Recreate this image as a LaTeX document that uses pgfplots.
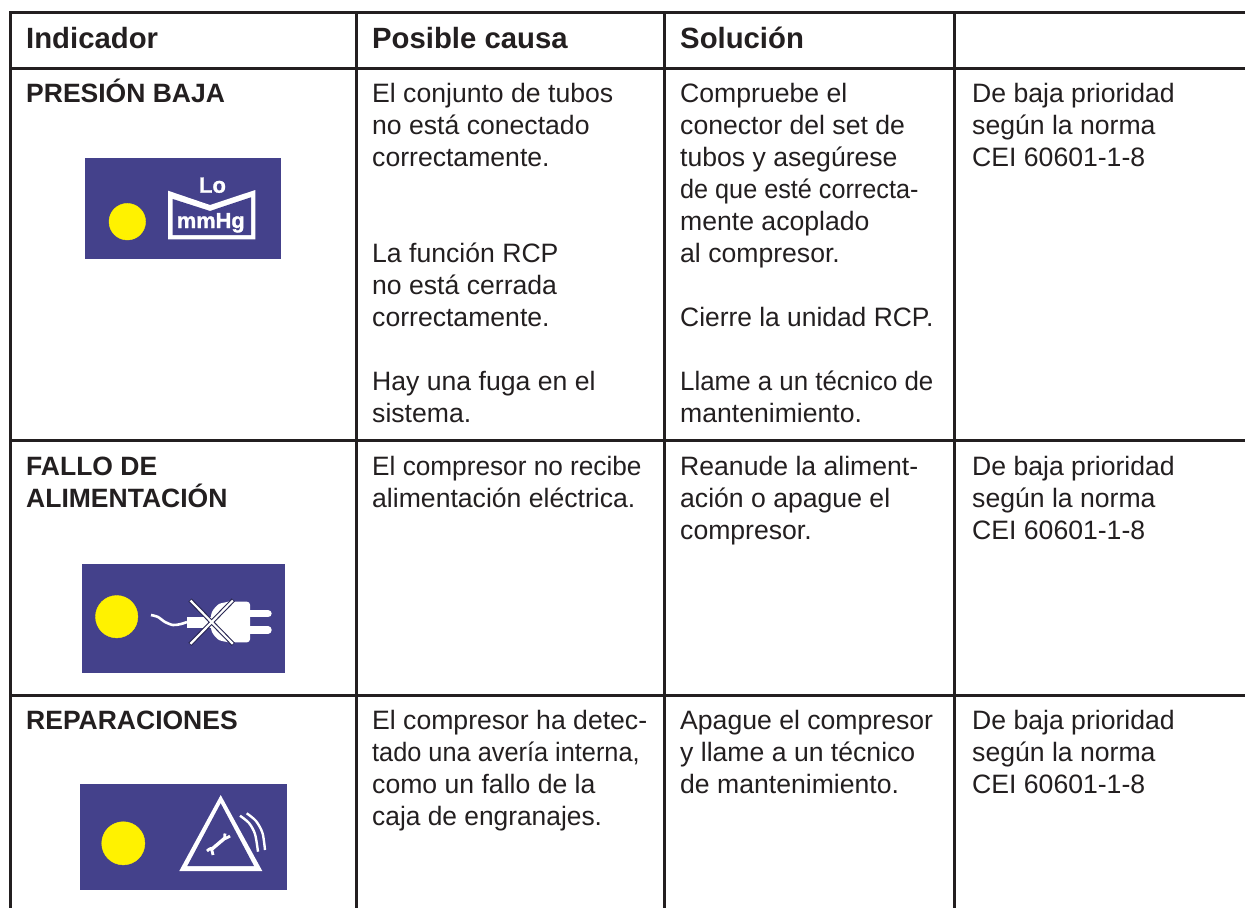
\documentclass[border=0pt]{standalone}
\usepackage{fontspec}
\setmainfont{Liberation Sans}
\newfontfamily\heavy[FakeBold=1.2]{Liberation Sans Bold}
\usepackage{pgfplots}
\pgfplotsset{compat=1.18}
\definecolor{ink}{HTML}{231F20}
\definecolor{navy}{HTML}{44418B}
\definecolor{sun}{HTML}{FFF200}
\newcommand{\T}[3]{\node[anchor=base west,inner sep=0pt,text=ink,font=\fontsize{26.6}{32}\selectfont] at (axis cs:#1,#2) {#3};}
\newcommand{\C}[4]{\node[anchor=base west,inner sep=0pt,xscale=#3,text=ink,font=\fontsize{26.6}{32}\selectfont] at (axis cs:#1,#2) {#4};}
\newcommand{\B}[3]{\node[anchor=base west,inner sep=0pt,text=ink,font=\fontsize{26.5}{32}\selectfont\bfseries] at (axis cs:#1,#2) {#3};}
\newcommand{\HH}[3]{\node[anchor=base west,inner sep=0pt,text=ink,font=\fontsize{29.3}{32}\selectfont\bfseries] at (axis cs:#1,#2) {#3};}
\begin{document}
\begin{tikzpicture}
\begin{axis}[hide axis,scale only axis,width=1245pt,height=908pt,
  xmin=0,xmax=1245,ymin=0,ymax=908,y dir=reverse,clip=true]
% white ground
\addplot[draw=none,fill=white] coordinates {(0,0)(1245,0)(1245,908)(0,908)} --cycle;
% rules
\addplot[ink,line width=3pt] coordinates {(9.3,12.8)(1245,12.8)};
\addplot[ink,line width=3pt] coordinates {(10.8,68.2)(1245,68.2)};
\addplot[ink,line width=3pt] coordinates {(10.8,440)(1245,440)};
\addplot[ink,line width=3pt] coordinates {(10.8,695)(1245,695)};
\addplot[ink,line width=3pt] coordinates {(10.8,12.8)(10.8,908)};
\addplot[ink,line width=3pt] coordinates {(356.8,12.8)(356.8,908)};
\addplot[ink,line width=3pt] coordinates {(664.8,12.8)(664.8,908)};
\addplot[ink,line width=3pt] coordinates {(954.8,12.8)(954.8,908)};
% header
\HH{26}{48.5}{Indicador}
\HH{372}{48.5}{Posible causa}
\HH{680}{48.5}{Solución}
% row 1
\B{26}{102}{PRESIÓN BAJA}
\T{372}{102}{El conjunto de tubos}
\T{372}{134}{no está conectado}
\T{372}{166}{correctamente.}
\T{372}{262}{La función RCP}
\T{372}{294}{no está cerrada}
\T{372}{326}{correctamente.}
\T{372}{390}{Hay una fuga en el}
\T{372}{422}{sistema.}
\T{680}{102}{Compruebe el}
\T{680}{134}{conector del set de}
\T{680}{166}{tubos y asegúrese}
\C{680}{198}{0.948}{de que esté correcta-}
\T{680}{230}{mente acoplado}
\T{680}{262}{al compresor.}
\C{680}{326}{0.992}{Cierre la unidad RCP.}
\C{680}{390}{0.973}{Llame a un técnico de}
\T{680}{422}{mantenimiento.}
\T{972}{102}{De baja prioridad}
\T{972}{134}{según la norma}
\T{972}{166}{CEI 60601-1-8}
% row 2
\B{26}{475}{FALLO DE}
\B{26}{507}{ALIMENTACIÓN}
\C{372}{475}{0.985}{El compresor no recibe}
\T{372}{507}{alimentación eléctrica.}
\T{680}{475}{Reanude la aliment-}
\T{680}{507}{ación o apague el}
\T{680}{539}{compresor.}
\T{972}{475}{De baja prioridad}
\T{972}{507}{según la norma}
\T{972}{539}{CEI 60601-1-8}
% row 3
\B{26}{729}{REPARACIONES}
\T{372}{729}{El compresor ha detec-}
\C{372}{761}{0.952}{tado una avería interna,}
\T{372}{793}{como un fallo de la}
\C{372}{825}{0.99}{caja de engranajes.}
\T{680}{729}{Apague el compresor}
\T{680}{761}{y llame a un técnico}
\T{680}{793}{de mantenimiento.}
\T{972}{729}{De baja prioridad}
\T{972}{761}{según la norma}
\T{972}{793}{CEI 60601-1-8}
% icon 1
\addplot[draw=none,fill=navy] coordinates {(85,158)(281,158)(281,259)(85,259)} --cycle;
\addplot[only marks,mark=*,mark size=18.3pt,sun,mark options={draw=sun,fill=sun}] coordinates {(127.3,221.7)};
\addplot[draw=none,fill=white] coordinates {(168,190.7)(210,205)(255.3,190)(255.3,239.3)(168,239.3)} --cycle;
\addplot[draw=none,fill=navy] coordinates {(172.7,199)(210,211)(251,197.3)(251,235)(172.7,235)} --cycle;
\node[anchor=base,inner sep=0pt,text=white,font=\fontsize{22}{20}\selectfont\heavy] at (axis cs:212.5,192.7) {Lo};
\node[anchor=base,inner sep=0pt,text=white,font=\fontsize{21.8}{20}\selectfont\heavy] at (axis cs:210.8,228) {mmHg};
% icon 2
\addplot[draw=none,fill=navy] coordinates {(82,564)(285,564)(285,673)(82,673)} --cycle;
\addplot[only marks,mark=*,mark size=21.2pt,sun,mark options={draw=sun,fill=sun}] coordinates {(116.7,616.7)};
\addplot[white,line width=2.6pt,smooth] coordinates {(151,615)(158,617)(165,622)(173,625)(181,624)(187,622)};
\addplot[draw=none,fill=white] coordinates {(186.7,616.7)(212,616.7)(212,627.7)(186.7,627.7)} --cycle;
\addplot[draw=none,fill=white,rounded corners=3pt] coordinates {(225,601.7)(250,601.7)(250,642.3)(225,642.3)} --cycle;
\addplot[draw=none,fill=white,smooth] coordinates {(230,601.7)(219,604)(212,612)(210.7,622)(212,632)(219,640)(230,642.3)} --cycle;
\addplot[white,line width=7.4pt,line cap=round] coordinates {(249,613.7)(268,613.7)};
\addplot[white,line width=7.4pt,line cap=round] coordinates {(249,630)(268,630)};
\addplot[navy!60!black,line width=4.4pt] coordinates {(190,600)(233.3,644.3)};
\addplot[navy!60!black,line width=4.4pt] coordinates {(233.3,600)(190,644.3)};
\addplot[white,line width=2.2pt] coordinates {(190.5,600.5)(232.8,643.8)};
\addplot[white,line width=2.2pt] coordinates {(232.8,600.5)(190.5,643.8)};
% icon 3
\addplot[draw=none,fill=navy] coordinates {(80,784)(287,784)(287,890)(80,890)} --cycle;
\addplot[only marks,mark=*,mark size=21.6pt,sun,mark options={draw=sun,fill=sun}] coordinates {(123.3,843.3)};
\addplot[draw=none,fill=white] coordinates {(220.7,795)(179.3,871)(262.3,871)} --cycle;
\addplot[draw=none,fill=navy] coordinates {(220.7,803.3)(187.3,866)(254,866)} --cycle;
\addplot[white,line width=2.4pt,smooth] coordinates {(240,815.7)(249,823)(255,834)(258,851.7)};
\addplot[white,line width=2.4pt,smooth] coordinates {(246.7,813.3)(256,821)(262.5,833)(265,850)};
\addplot[white,line width=3.4pt] coordinates {(212,849)(225,838)};
\addplot[white,line width=2.8pt,smooth] coordinates {(207,851)(211,848.5)(213,855)};
\addplot[white,line width=2.8pt,smooth] coordinates {(225,833.5)(225,838.5)(230,836)};
\end{axis}
\end{tikzpicture}
\end{document}
